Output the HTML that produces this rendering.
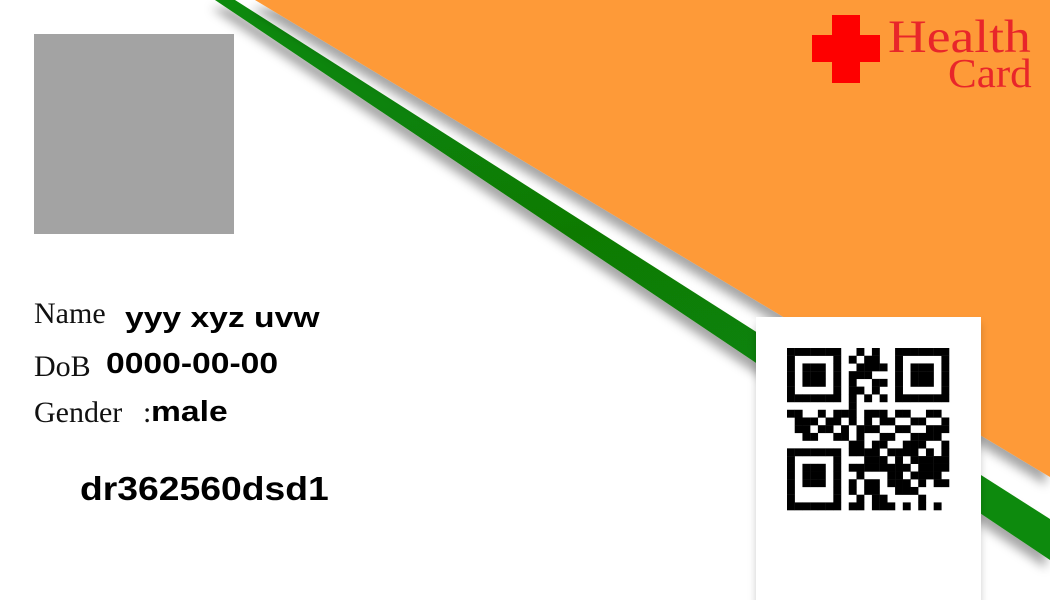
<!DOCTYPE html>
<html><head><meta charset="utf-8"><style>
html,body{margin:0;padding:0;width:1050px;height:600px;overflow:hidden;background:#fff}
.t{position:absolute;white-space:nowrap;line-height:1;transform-origin:0 0}
.lab{font-family:"Liberation Serif",serif;font-size:30px;color:#111}
.val{font-family:"Liberation Sans",sans-serif;font-weight:bold;font-size:29px;color:#000;transform:scaleX(1.16)}
</style></head><body>
<svg width="1050" height="600" style="position:absolute;left:0;top:0">
<defs>
<filter id="sh" x="-10%" y="-10%" width="130%" height="130%"><feDropShadow dx="-4" dy="8" stdDeviation="5" flood-color="#000" flood-opacity="0.35"/></filter>
<filter id="sh2" x="-10%" y="-10%" width="130%" height="130%"><feDropShadow dx="0" dy="6" stdDeviation="4" flood-color="#000" flood-opacity="0.2"/></filter>
<linearGradient id="gg" x1="0" y1="0" x2="0.3" y2="1"><stop offset="0" stop-color="#108a08"/><stop offset="0.5" stop-color="#0d7a06"/><stop offset="1" stop-color="#118a08"/></linearGradient>
</defs>
<polygon points="215,0 235,0 1050,519 1050,560" fill="url(#gg)" filter="url(#sh)"/>
<polygon points="255,0 1050,0 1050,477" fill="#fe9a37" filter="url(#sh)"/>
<rect x="34" y="34" width="200" height="200" fill="#a3a3a3"/>
<rect x="756" y="317" width="225" height="290" fill="#fff" filter="url(#sh2)"/>
<rect x="812" y="35" width="68" height="27" fill="#fe0000"/>
<rect x="832" y="15" width="28" height="68" fill="#fe0000"/>
<g id="qr" fill="#000"></g>
</svg>
<div class="t" style="left:888px;top:14px;font-family:'Liberation Serif',serif;font-size:47px;color:#e8262a;transform:scaleX(1.14)">Health</div>
<div class="t" style="left:948px;top:53px;font-family:'Liberation Serif',serif;font-size:41px;color:#e8262a;transform:scaleX(1.05)">Card</div>
<div class="t lab" style="left:34px;top:299px">Name</div>
<div class="t val" style="left:125px;top:304px">yyy xyz uvw</div>
<div class="t lab" style="left:34px;top:352px">DoB</div>
<div class="t val" style="left:106px;top:350px">0000-00-00</div>
<div class="t lab" style="left:34px;top:398px">Gender</div>
<div class="t lab" style="left:143px;top:398px">:</div>
<div class="t val" style="left:151px;top:398px">male</div>
<div class="t val" style="left:80px;top:472px;font-size:33px;transform:scaleX(1.13)">dr362560dsd1</div>
<script>
var m=[
"111111100101001111111",
"100000101011001000001",
"101110100111101011101",
"101110101110001011101",
"101110101001101011101",
"100000101101001000001",
"111111101010101111111",
"000000001000000000000",
"110010111011101100110",
"011101101010110011001",
"011011010111001100111",
"001100110100110011110",
"000000001101100111001",
"111111101111011110101",
"100000100011101011111",
"101110101111111101111",
"101110100100011011110",
"101110101011011101011",
"100000101011001110000",
"100000100101100001000",
"111111101101110101010"];
var g=document.getElementById('qr'),s='';
for(var r=0;r<21;r++)for(var c=0;c<21;c++)if(m[r][c]=='1')s+='<rect x="'+(787+c*7.72)+'" y="'+(348+r*7.72)+'" width="7.9" height="7.9"/>';
g.innerHTML=s;
</script>
</body></html>
